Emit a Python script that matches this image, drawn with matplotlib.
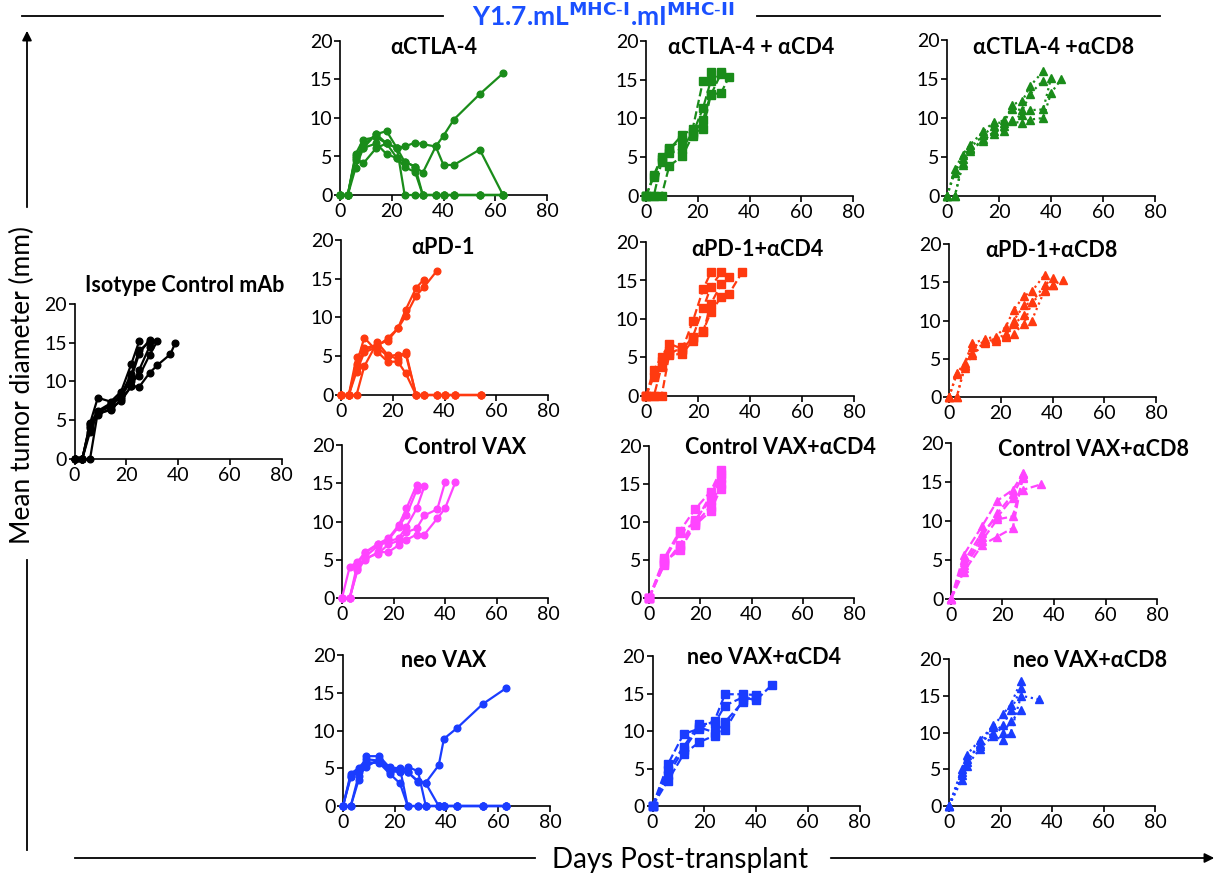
import matplotlib
matplotlib.use("Agg")
import matplotlib.pyplot as plt
from matplotlib.lines import Line2D

plt.rcParams['font.family'] = ['Lato', 'DejaVu Sans']

# ---------------- data ----------------
GREEN = "#1a8c1a"
RED = "#ff3a10"
MAGENTA = "#ff44ff"
BLUE = "#1a3cff"
BLACK = "#000000"

x_ticks = [0, 20, 40, 60, 80]
y_ticks = [0, 5, 10, 15, 20]

# Isotype control
iso_days = [0, 3, 6, 9, 14, 18, 22, 25, 29, 32, 37, 39]
iso_m1 = [0, 0, 4.6, 7.9, 7.4, 8.7, 12.3, 15.2]
iso_m2 = [0, 0, 4.3, 6.0, 7.0, 8.0, 10.5, 13.6, 15.4]
iso_m3 = [0, 0, 3.5, 5.9, 6.3, 7.7, 9.4, 11.5, 14.5]
iso_m4 = [0, 0, 0, 6.0, 6.8, 8.2, 10.0, 10.7, 13.4, 15.2]
iso_m5 = [0, 0, 4.0, 5.7, 6.5, 7.5, 9.4, 9.3, 11.1, 12.1, 13.5, 15.0]
iso_m6 = [0, 0, 4.5, 6.2, 7.2, 8.3, 11.0, 14.0, 15.1]

# aCTLA-4
ctla_days = [0, 3, 6, 9, 14, 18, 22, 25, 29, 32, 37, 40, 44, 54, 63]
ctla_m1 = [0, 0, 5.3, 7.2, 7.5, 6.7, 6.1, 6.3, 6.8, 6.6, 6.3, 7.7, 9.8, 13.1, 15.8]
ctla_m2 = [0, 0, 4.6, 6.1, 7.9, 8.3, 6.1, 4.3, 3.7, 2.9, 6.3, 3.9, 3.9, 5.9, 0]
ctla_m3 = [0, 0, 3.5, 6.1, 6.7, 5.3, 4.8, 3.6, 3.0, 0, 0, 0, 0, 0, 0]
ctla_m4 = [0, 0, 4.8, 4.1, 6.1, 6.7, 6.1, 0, 0, 0, 0, 0, 0, 0, 0]
ctla_m5 = [0, 0, 5.0, 6.5, 7.9, 6.7, 4.8, 4.3, 3.7, 0, 0, 0, 0, 0, 0]

# aCTLA-4 + aCD4
ctla4_days = [0, 3, 6, 9, 14, 18, 22, 25, 29, 32]
ctla4_m1 = [0, 2.7, 5.0, 6.0, 7.9, 8.6, 14.8, 16.0]
ctla4_m2 = [0, 0, 4.4, 6.2, 7.2, 8.0, 11.3, 14.8, 16.0]
ctla4_m3 = [0, 0, 0, 3.9, 5.1, 7.8, 9.8, 13.1, 13.3, 15.3]
ctla4_m4 = [0, 2.5, 4.8, 5.5, 6.1, 8.2, 8.6, 13.0, 15.8]

# aCTLA-4 + aCD8
ctla8_days = [0, 3, 6, 9, 14, 18, 22, 25, 29, 32, 37, 40, 44]
ctla8_m1 = [0, 3.4, 5.3, 6.6, 8.3, 9.5, 9.3, 11.7, 12.2, 14.1, 16.0]
ctla8_m2 = [0, 3.0, 4.8, 6.2, 7.8, 9.0, 9.8, 11.2, 11.0, 13.1, 14.8]
ctla8_m3 = [0, 0, 4.2, 6.0, 7.0, 8.3, 8.3, 9.8, 10.4, 11.0, 11.1, 15.1]
ctla8_m4 = [0, 0, 4.0, 5.8, 7.3, 7.9, 9.0, 9.6, 9.3, 9.8, 10.0, 13.2, 15.0]

# aPD-1
pd1_days = [0, 3, 6, 9, 14, 18, 22, 25, 29, 32, 37, 40, 44, 54]
pd1_m1 = [0, 0, 4.9, 5.9, 6.3, 7.3, 8.6, 11.0, 13.8, 14.9]
pd1_m2 = [0, 0, 3.5, 6.0, 6.5, 7.0, 8.6, 10.2, 12.8, 13.9, 16.0]
pd1_m3 = [0, 0, 0, 3.7, 6.8, 5.2, 4.6, 5.6, 0, 0, 0, 0, 0, 0]
pd1_m4 = [0, 0, 4.0, 7.4, 5.6, 4.3, 4.3, 2.8, 0, 0, 0, 0, 0, 0]
pd1_m5 = [0, 0, 3.0, 5.5, 6.2, 5.0, 5.2, 5.3, 0, 0, 0, 0, 0, 0]

# aPD-1 + aCD4
pd14_days = [0, 3, 6, 9, 14, 18, 22, 25, 29, 32, 37]
pd14_m1 = [0, 3.4, 5.1, 6.8, 6.1, 9.7, 13.9, 16.1]
pd14_m2 = [0, 2.5, 4.5, 5.8, 6.0, 7.7, 11.4, 14.2, 16.1]
pd14_m3 = [0, 0, 3.8, 5.3, 5.5, 7.2, 8.3, 12.0, 14.6, 15.5]
pd14_m4 = [0, 0, 0, 5.5, 6.3, 7.5, 8.5, 10.9, 12.9, 13.3, 16.1]

# aPD-1 + aCD8
pd18_days = [0, 3, 6, 9, 14, 18, 22, 25, 29, 32, 37, 40, 44]
pd18_m1 = [0, 3.1, 4.4, 7.0, 7.6, 7.9, 9.2, 11.4, 13.2, 13.8, 16.0]
pd18_m2 = [0, 3.0, 4.2, 6.5, 7.3, 7.6, 8.0, 10.0, 12.0, 12.4, 14.6, 15.5]
pd18_m3 = [0, 0, 3.8, 5.5, 7.0, 7.3, 7.9, 8.3, 9.6, 12.4, 13.8, 14.6]
pd18_m4 = [0, 0, 4.0, 5.8, 7.2, 7.6, 8.2, 9.5, 10.7, 10.0, 14.0, 14.6, 15.3]

# Control VAX
cvax_days = [0, 3, 6, 9, 14, 18, 22, 25, 29, 32, 37, 40, 44]
cvax_m1 = [0, 4.1, 4.7, 6.0, 7.1, 7.8, 9.5, 11.7, 14.8]
cvax_m2 = [0, 0, 3.8, 5.4, 6.8, 7.4, 7.8, 9.3, 11.7, 14.6]
cvax_m3 = [0, 0, 4.0, 5.2, 5.8, 7.0, 7.5, 8.6, 9.1, 10.8, 11.6, 15.1]
cvax_m4 = [0, 0, 3.6, 5.0, 6.0, 6.0, 6.9, 7.6, 8.3, 8.3, 10.4, 11.7, 15.1]
cvax_m5 = [0, 0, 4.5, 5.9, 7.0, 7.6, 9.3, 10.8, 14.1]

# Control VAX + aCD4
cvax4_days = [0, 6, 12, 18, 24, 28]
cvax4_m1 = [0, 5.3, 8.8, 11.7, 14.0, 16.8]
cvax4_m2 = [0, 4.4, 7.0, 10.3, 12.9, 15.8]
cvax4_m3 = [0, 4.8, 6.3, 9.6, 11.4, 14.4]
cvax4_m4 = [0, 5.0, 8.5, 10.0, 13.5, 16.3]
cvax4_m5 = [0, 4.5, 6.8, 9.8, 12.0, 15.0]

# Control VAX + aCD8
cvax8_days = [0, 5, 12, 18, 24, 28, 35]
cvax8_m1 = [0, 5.7, 9.3, 12.6, 14.0, 16.1]
cvax8_m2 = [0, 4.4, 8.0, 11.0, 13.4, 15.7]
cvax8_m3 = [0, 3.5, 6.9, 8.0, 9.1, 16.0]
cvax8_m4 = [0, 4.0, 7.5, 10.2, 10.6, 15.5]
cvax8_m5 = [0, 4.8, 8.5, 10.5, 13.0, 14.0, 14.7]

# neo VAX
nvax_days = [0, 3, 6, 9, 14, 18, 22, 25, 29, 32, 37, 39, 44, 54, 63]
nvax_m1 = [0, 4.3, 5.0, 6.2, 6.0, 5.0, 4.7, 4.5, 3.3, 3.1, 5.4, 8.9, 10.3, 13.5, 15.6]
nvax_m2 = [0, 0, 3.4, 6.6, 6.6, 5.1, 5.0, 0, 0, 0, 0, 0, 0, 0, 0]
nvax_m3 = [0, 3.8, 4.5, 5.8, 5.7, 4.3, 3.0, 0, 0, 0, 0, 0, 0, 0, 0]
nvax_m4 = [0, 0, 4.0, 5.2, 6.2, 4.8, 4.5, 5.2, 4.6, 0, 0, 0, 0, 0, 0]
nvax_m5 = [0, 4.0, 4.8, 5.5, 5.9, 4.5, 4.6, 4.5, 3.2, 3.0, 0, 0, 0, 0, 0]

# neo VAX + aCD4
nvax4_days = [0, 6, 12, 18, 24, 28, 35, 40, 46]
nvax4_m1 = [0, 5.6, 9.6, 10.3, 11.4, 14.9, 14.9, 14.8]
nvax4_m2 = [0, 4.8, 7.9, 10.9, 11.0, 13.4, 14.5, 14.1, 16.1]
nvax4_m3 = [0, 3.4, 6.9, 8.5, 9.4, 11.2, 13.9]
nvax4_m4 = [0, 4.2, 7.5, 10.5, 9.8, 10.1, 14.2, 14.5]

# neo VAX + aCD8
nvax8_days = [0, 5, 7, 12, 17, 21, 24, 28, 35]
nvax8_m1 = [0, 5.0, 7.0, 9.0, 10.8, 12.5, 13.8, 17.0]
nvax8_m2 = [0, 4.2, 6.0, 8.5, 10.0, 11.0, 13.0, 16.0]
nvax8_m3 = [0, 3.6, 5.5, 7.8, 9.5, 9.0, 10.0, 15.0, 14.5]
nvax8_m4 = [0, 4.6, 6.4, 8.2, 11.0, 10.0, 11.5, 13.0]

panels = [
    # title, days, mice, color, marker, linestyle, rect(px: x0, y_bottom, w, h), title pos (px x, y)
    ("Isotype Control mAb", iso_days, [iso_m1, iso_m2, iso_m3, iso_m4, iso_m5, iso_m6], BLACK, "o", "-",
     (74.5, 459, 207, 155), (185, 285)),
    ("αCTLA-4", ctla_days, [ctla_m1, ctla_m2, ctla_m3, ctla_m4, ctla_m5], GREEN, "o", "-",
     (340, 195, 207, 154), (434, 47)),
    ("αCTLA-4 + αCD4", ctla4_days, [ctla4_m1, ctla4_m2, ctla4_m3, ctla4_m4], GREEN, "s", "--",
     (646, 196, 207, 155), (751, 47)),
    ("αCTLA-4 +αCD8", ctla8_days, [ctla8_m1, ctla8_m2, ctla8_m3, ctla8_m4], GREEN, "^", ":",
     (947, 196, 208, 156), (1054, 47)),
    ("αPD-1", pd1_days, [pd1_m1, pd1_m2, pd1_m3, pd1_m4, pd1_m5], RED, "o", "-",
     (341, 395, 207, 155), (443, 248)),
    ("αPD-1+αCD4", pd14_days, [pd14_m1, pd14_m2, pd14_m3, pd14_m4], RED, "s", "--",
     (646, 396, 208, 154), (757, 249)),
    ("αPD-1+αCD8", pd18_days, [pd18_m1, pd18_m2, pd18_m3, pd18_m4], RED, "^", ":",
     (949, 397, 207, 153), (1051, 250)),
    ("Control VAX", cvax_days, [cvax_m1, cvax_m2, cvax_m3, cvax_m4, cvax_m5], MAGENTA, "o", "-",
     (342, 598, 206, 153), (465, 447)),
    ("Control VAX+αCD4", cvax4_days, [cvax4_m1, cvax4_m2, cvax4_m3, cvax4_m4, cvax4_m5], MAGENTA, "s", "--",
     (649, 598, 205, 152), (780, 448)),
    ("Control VAX+αCD8", cvax8_days, [cvax8_m1, cvax8_m2, cvax8_m3, cvax8_m4, cvax8_m5], MAGENTA, "^", "--",
     (951, 599, 206, 156), (1094, 449)),
    ("neo VAX", nvax_days, [nvax_m1, nvax_m2, nvax_m3, nvax_m4, nvax_m5], BLUE, "o", "-",
     (343, 806, 207, 151), (444, 660)),
    ("neo VAX+αCD4", nvax4_days, [nvax4_m1, nvax4_m2, nvax4_m3, nvax4_m4], BLUE, "s", "--",
     (652.5, 806, 207, 150), (764, 658)),
    ("neo VAX+αCD8", nvax8_days, [nvax8_m1, nvax8_m2, nvax8_m3, nvax8_m4], BLUE, "^", ":",
     (949, 806, 206, 147), (1090, 660)),
]

W, H = 1219, 880
fig = plt.figure(figsize=(W / 100, H / 100), dpi=100)


def frect(x0, yb, w, h):
    return [x0 / W, 1 - yb / H, w / W, h / H]


for title, days, mice, color, marker, ls, r, tpos in panels:
    ax = fig.add_axes(frect(*r))
    for vals in mice:
        ax.plot(days[:len(vals)], vals, color=color, marker=marker, linestyle=ls,
                linewidth=1.6, markersize=4.8 if marker == "o" else 5.4,
                clip_on=False, zorder=3)
    ax.set_xlim(0, 80)
    ax.set_ylim(0, 20)
    ax.set_xticks(x_ticks)
    ax.set_yticks(y_ticks)
    for s in ("top", "right"):
        ax.spines[s].set_visible(False)
    for s in ("left", "bottom"):
        ax.spines[s].set_linewidth(1.2)
    ax.tick_params(direction="out", length=4, width=1.2, labelsize=14, pad=1.5)
    ax.patch.set_alpha(0)
    fig.text(tpos[0] / W, 1 - tpos[1] / H, title, ha="center", va="center",
             fontsize=15.5, fontweight="bold")

# main title with horizontal rules
fig.text(603 / W, 1 - 16 / H, r"Y1.7.mL$^{\mathbf{MHC\text{-}I}}$.mI$^{\mathbf{MHC\text{-}II}}$",
         ha="center", va="center", fontsize=19, fontweight="bold", color="#1a50ff")
fig.add_artist(Line2D([22 / W, 443 / W], [1 - 16 / H, 1 - 16 / H], color="black", lw=1.3))
fig.add_artist(Line2D([757 / W, 1160 / W], [1 - 16 / H, 1 - 16 / H], color="black", lw=1.3))

# y label with arrow line
fig.text(22 / W, 1 - 385 / H, "Mean tumor diameter (mm)", rotation=90, ha="center", va="center",
         fontsize=19)
fig.add_artist(Line2D([27 / W, 27 / W], [1 - 560 / H, 1 - 850 / H], color="black", lw=1.3))
fig.patches.append(matplotlib.patches.FancyArrowPatch((27 / W, 1 - 210 / H), (27 / W, 1 - 28 / H),
                   transform=fig.transFigure, arrowstyle="-|>", mutation_scale=14, color="black", lw=1.3))

# x label with arrow line
fig.text(680 / W, 1 - 860 / H, "Days Post-transplant", ha="center", va="center", fontsize=20)
fig.add_artist(Line2D([75 / W, 535 / W], [1 - 858 / H, 1 - 858 / H], color="black", lw=1.3))
fig.patches.append(matplotlib.patches.FancyArrowPatch((828 / W, 1 - 858 / H), (1217 / W, 1 - 858 / H),
                   transform=fig.transFigure, arrowstyle="-|>", mutation_scale=14, color="black", lw=1.3))

fig.savefig("out.png", dpi=100)
